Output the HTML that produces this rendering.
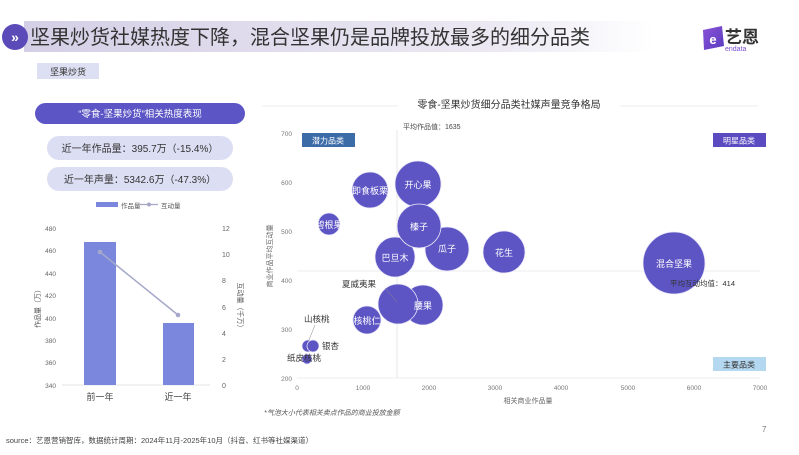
<!DOCTYPE html>
<html><head><meta charset="utf-8"><style>
html,body{margin:0;padding:0;background:#fff;}
body{width:799px;height:450px;overflow:hidden;position:relative;font-family:"Liberation Sans","Noto Sans CJK SC",sans-serif;}
</style></head><body>
<svg width="799" height="450" viewBox="0 0 799 450" xmlns="http://www.w3.org/2000/svg" font-family="Liberation Sans, Noto Sans CJK SC, sans-serif">
<defs>
<linearGradient id="tg" x1="0" x2="1"><stop offset="0" stop-color="#d4cfe6"/><stop offset="0.75" stop-color="#ece9f3"/><stop offset="1" stop-color="#ffffff"/></linearGradient>
<linearGradient id="lg" x1="0" x2="1" y1="0" y2="1"><stop offset="0" stop-color="#8a52d8"/><stop offset="1" stop-color="#5a3cc0"/></linearGradient>
</defs>
<rect x="24" y="21" width="630" height="31" fill="url(#tg)"/>
<circle cx="15" cy="37" r="13" fill="#5a4bb8"/>
<text x="15" y="42" font-size="14" fill="#fff" text-anchor="middle" font-weight="bold">»</text>
<text x="30" y="44" font-size="20" fill="#333">坚果炒货社媒热度下降，混合坚果仍是品牌投放最多的细分品类</text>
<path d="M703 30 L722 26 L724 46 L704 50 Z" fill="url(#lg)"/>
<text x="713" y="44" font-size="13" fill="#fff" text-anchor="middle" font-weight="bold">e</text>
<text x="725" y="43" font-size="17" fill="#333" font-weight="bold">艺恩</text>
<text x="725" y="51" font-size="7" fill="#7a4fd0">endata</text>
<rect x="37" y="63" width="62" height="16" fill="#dde0f3"/>
<text x="68" y="75" font-size="9" fill="#333" text-anchor="middle">坚果炒货</text>
<rect x="35" y="103" width="210" height="21" rx="10.5" fill="#5b55c5"/>
<text x="140" y="117" font-size="9.5" fill="#fff" text-anchor="middle">“零食-坚果炒货”相关热度表现</text>
<rect x="47" y="136" width="186" height="24" rx="12" fill="#dcdef3"/>
<text x="140" y="152" font-size="10" fill="#333" text-anchor="middle">近一年作品量：395.7万（-15.4%）</text>
<rect x="47" y="167" width="186" height="24" rx="12" fill="#dcdef3"/>
<text x="140" y="183" font-size="10" fill="#333" text-anchor="middle">近一年声量：5342.6万（-47.3%）</text>
<rect x="96" y="202" width="22" height="5" fill="#7b87dc"/>
<text x="121" y="208" font-size="6.5" fill="#555">作品量</text>
<line x1="140" y1="204.5" x2="158" y2="204.5" stroke="#a5a8c8" stroke-width="1.2"/>
<circle cx="149" cy="204.5" r="2" fill="#a5a8c8"/>
<text x="161" y="208" font-size="6.5" fill="#555">互动量</text>
<g font-size="6.5" fill="#666" text-anchor="end">
<text x="56" y="231">480</text><text x="56" y="253">460</text><text x="56" y="276">440</text><text x="56" y="298">420</text><text x="56" y="321">400</text><text x="56" y="343">380</text><text x="56" y="365">360</text><text x="56" y="388">340</text>
</g>
<g font-size="7" fill="#666" text-anchor="start">
<text x="222" y="231">12</text><text x="222" y="257">10</text><text x="222" y="283">8</text><text x="222" y="310">6</text><text x="222" y="336">4</text><text x="222" y="362">2</text><text x="222" y="388">0</text>
</g>
<line x1="62" y1="385" x2="210" y2="385" stroke="#ddd" stroke-width="0.8"/>
<text transform="translate(40,307) rotate(-90)" font-size="7" fill="#555" text-anchor="middle">作品量（万）</text>
<text transform="translate(238,307) rotate(90)" font-size="7" fill="#555" text-anchor="middle">互动量（千万）</text>
<rect x="84" y="242" width="32" height="143" fill="#7b87dc"/>
<rect x="163" y="323" width="31" height="62" fill="#7b87dc"/>
<line x1="100" y1="252" x2="178" y2="315" stroke="#a5a8c8" stroke-width="1.5"/>
<circle cx="100" cy="252" r="2.3" fill="#a5a8c8"/><circle cx="178" cy="315" r="2.3" fill="#a5a8c8"/>
<text x="100" y="400" font-size="9" fill="#444" text-anchor="middle">前一年</text>
<text x="178" y="400" font-size="9" fill="#444" text-anchor="middle">近一年</text>
<line x1="262" y1="106" x2="398" y2="106" stroke="#eee"/>
<line x1="620" y1="106" x2="758" y2="106" stroke="#eee"/>
<text x="509" y="108" font-size="10" fill="#333" text-anchor="middle">零食-坚果炒货细分品类社媒声量竞争格局</text>
<text x="403" y="129" font-size="7" fill="#444">平均作品值：1635</text>
<g font-size="6.5" fill="#777" text-anchor="end">
<text x="292" y="136">700</text><text x="292" y="185">600</text><text x="292" y="234">500</text><text x="292" y="283">400</text><text x="292" y="332">300</text><text x="292" y="381">200</text>
</g>
<line x1="297" y1="378" x2="760" y2="378" stroke="#e6e6e6" stroke-width="0.8"/>
<g font-size="6.5" fill="#777" text-anchor="middle">
<text x="297" y="390">0</text><text x="363" y="390">1000</text><text x="429" y="390">2000</text><text x="495" y="390">3000</text><text x="561" y="390">4000</text><text x="628" y="390">5000</text><text x="694" y="390">6000</text><text x="760" y="390">7000</text>
</g>
<text x="528" y="403" font-size="7" fill="#666" text-anchor="middle">相关商业作品量</text>
<text transform="translate(272,256) rotate(-90)" font-size="7" fill="#666" text-anchor="middle">商业作品平均互动量</text>
<line x1="397" y1="130" x2="397" y2="378" stroke="#ddd" stroke-width="0.7"/>
<line x1="297" y1="271" x2="760" y2="271" stroke="#e6e6e6" stroke-width="0.7"/>
<rect x="302" y="133" width="53" height="14" fill="#3c6ca8"/>
<text x="328" y="143.5" font-size="8" fill="#fff" text-anchor="middle">潜力品类</text>
<rect x="713" y="133" width="53" height="14" fill="#5a4cc0"/>
<text x="739" y="143.5" font-size="8" fill="#fff" text-anchor="middle">明星品类</text>
<rect x="713" y="357" width="53" height="14" fill="#b4d8f0"/>
<text x="739" y="367.5" font-size="8" fill="#333" text-anchor="middle">主要品类</text>
<g fill="#5d55c4" stroke="#e8e6f8" stroke-width="0.8">
<circle cx="674" cy="263" r="31"/>
<circle cx="504" cy="252" r="21"/>
<circle cx="447" cy="249" r="22"/>
<circle cx="418" cy="184" r="23"/>
<circle cx="370" cy="190" r="18"/>
<circle cx="329" cy="224" r="11"/>
<circle cx="395" cy="257" r="20"/>
<circle cx="419" cy="226" r="22"/>
<circle cx="423" cy="305" r="20"/>
<circle cx="398" cy="304" r="20"/>
<circle cx="367" cy="320" r="14"/>
<circle cx="308" cy="346" r="6"/>
<circle cx="313" cy="346" r="6"/>
<circle cx="307" cy="359" r="5"/>
</g>
<g font-size="9" fill="#fff" text-anchor="middle">
<text x="674" y="267">混合坚果</text>
<text x="504" y="256">花生</text>
<text x="447" y="252">瓜子</text>
<text x="418" y="188">开心果</text>
<text x="370" y="194">即食板栗</text>
<text x="329" y="228">碧根果</text>
<text x="395" y="261">巴旦木</text>
<text x="419" y="230">榛子</text>
<text x="423" y="309">腰果</text>
<text x="367" y="324">核桃仁</text>
</g>
<text x="670" y="286" font-size="7.5" fill="#333">平均互动均值：414</text>
<g font-size="8.5" fill="#333">
<text x="342" y="287">夏威夷果</text>
<text x="304" y="322">山核桃</text>
<text x="322" y="349">银杏</text>
<text x="287" y="361">纸皮核桃</text>
</g>
<line x1="385" y1="288" x2="397" y2="302" stroke="#888" stroke-width="0.5"/>
<line x1="315" y1="325" x2="309" y2="340" stroke="#888" stroke-width="0.5"/>
<text x="264" y="415" font-size="7" fill="#555" font-style="italic">*气泡大小代表相关卖点作品的商业投放金额</text>
<text x="762" y="432" font-size="8" fill="#777">7</text>
<text x="6" y="443" font-size="7.5" fill="#444">source：艺恩营销智库，数据统计周期：2024年11月-2025年10月（抖音、红书等社媒渠道）</text>
</svg>
</body></html>
